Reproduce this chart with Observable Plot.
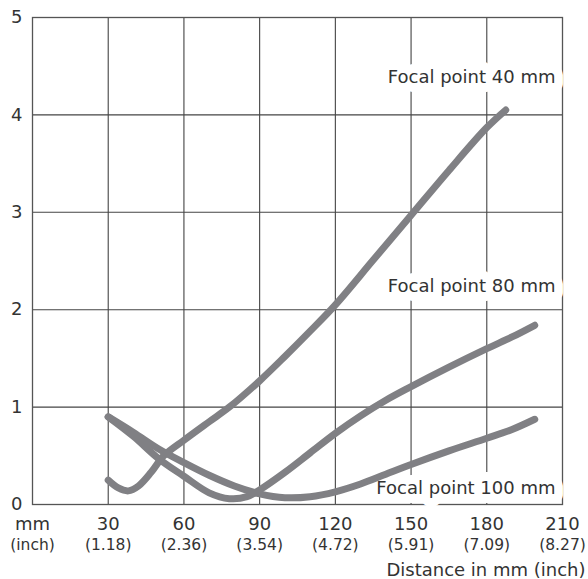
<!DOCTYPE html>
<html>
<head>
<meta charset="utf-8">
<script src="https://cdn.jsdelivr.net/npm/d3@7"></script>
<script src="https://cdn.jsdelivr.net/npm/@observablehq/plot@0.6"></script>
<style>
  html, body { margin: 0; padding: 0; background: #fff; }
</style>
</head>
<body>
<div id="chart"></div>
<script>
// X ticks (mm) and their two-line labels
const xTicks = [0, 30, 60, 90, 120, 150, 180, 210];
const mmLabels = ["mm", "30", "60", "90", "120", "150", "180", "210"];
const inchLabels = ["(inch)", "(1.18)", "(2.36)", "(3.54)", "(4.72)", "(5.91)", "(7.09)", "(8.27)"];
const yTicks = [0, 1, 2, 3, 4, 5];
const yLabels = ["0", "1", "2", "3", "4", "5"];

// Series: Focal point 40 mm
const fp40Mm  = [30, 34, 38, 42, 47, 52, 60, 70, 78, 90, 100, 110, 120, 135, 150, 165, 180, 187.5];
const fp40Val = [0.25, 0.17, 0.14, 0.19, 0.33, 0.50, 0.66, 0.85, 1.00, 1.27, 1.52, 1.78, 2.05, 2.51, 2.97, 3.43, 3.87, 4.05];

// Series: Focal point 80 mm
const fp80Mm  = [30, 40, 50, 60, 70, 78, 85, 90, 100, 110, 120, 130, 140, 150, 165, 180, 190, 199];
const fp80Val = [0.90, 0.70, 0.47, 0.29, 0.12, 0.06, 0.08, 0.15, 0.33, 0.53, 0.73, 0.91, 1.07, 1.21, 1.41, 1.60, 1.72, 1.84];

// Series: Focal point 100 mm
const fp100Mm  = [30, 40, 50, 60, 70, 80, 90, 100, 110, 120, 130, 140, 150, 165, 180, 190, 199];
const fp100Val = [0.90, 0.74, 0.57, 0.43, 0.30, 0.19, 0.11, 0.07, 0.08, 0.13, 0.21, 0.31, 0.41, 0.55, 0.68, 0.77, 0.875];

// Series labels and the value level of each label's baseline
const seriesNames = ["Focal point 40 mm", "Focal point 80 mm", "Focal point 100 mm"];
const labelLevel = [4.33, 2.18, 0.11];

const toRows = (xs, ys, name) => xs.map((x, i) => ({x, y: ys[i], name}));
const rows = [
  ...toRows(fp40Mm, fp40Val, seriesNames[0]),
  ...toRows(fp80Mm, fp80Val, seriesNames[1]),
  ...toRows(fp100Mm, fp100Val, seriesNames[2])
];
const labels = seriesNames.map((name, i) => ({name, y: labelLevel[i]}));

const textColor = "#333";
const gridColor = "#444";
const curveColor = "#808084";

const chart = Plot.plot({
  width: 588,
  height: 579,
  marginLeft: 32,
  marginRight: 26,
  marginTop: 17,
  marginBottom: 75,
  style: {fontFamily: "DejaVu Sans", color: textColor, background: "#fff"},
  x: {domain: [0, 210]},
  y: {domain: [0, 5]},
  marks: [
    Plot.gridX(xTicks.slice(1, -1), {stroke: gridColor, strokeOpacity: 1, strokeWidth: 1.1}),
    Plot.gridY(yTicks.slice(1, -1), {stroke: gridColor, strokeOpacity: 1, strokeWidth: 1.1}),
    Plot.frame({stroke: "#555", strokeWidth: 1.3}),
    Plot.axisY(yTicks, {tickSize: 0, tickPadding: 10, fontSize: 18, label: null, fill: textColor,
      tickFormat: (d) => yLabels[yTicks.indexOf(d)]}),
    Plot.axisX(xTicks, {tickSize: 0, tickPadding: 13, fontSize: 18, label: null, fill: textColor,
      tickFormat: (d) => mmLabels[xTicks.indexOf(d)]}),
    Plot.axisX(xTicks, {tickSize: 0, tickPadding: 34, fontSize: 15.5, label: null, fill: textColor,
      tickFormat: (d) => inchLabels[xTicks.indexOf(d)]}),
    Plot.text(["Distance in mm (inch)"], {frameAnchor: "bottom-right", dx: 23, dy: 71,
      textAnchor: "end", lineAnchor: "bottom", fontSize: 18, fill: textColor}),
    Plot.text(labels, {x: () => 210, y: "y", text: "name", dx: -7, textAnchor: "end",
      lineAnchor: "bottom", fontSize: 18, fill: textColor, stroke: "white", strokeWidth: 18,
      strokeLinejoin: "round", paintOrder: "stroke"}),
    Plot.line(rows, {x: "x", y: "y", z: "name", stroke: curveColor, strokeWidth: 7,
      strokeLinecap: "round", strokeLinejoin: "round", curve: "catmull-rom"})
  ]
});
document.getElementById("chart").appendChild(chart);
</script>
</body>
</html>
